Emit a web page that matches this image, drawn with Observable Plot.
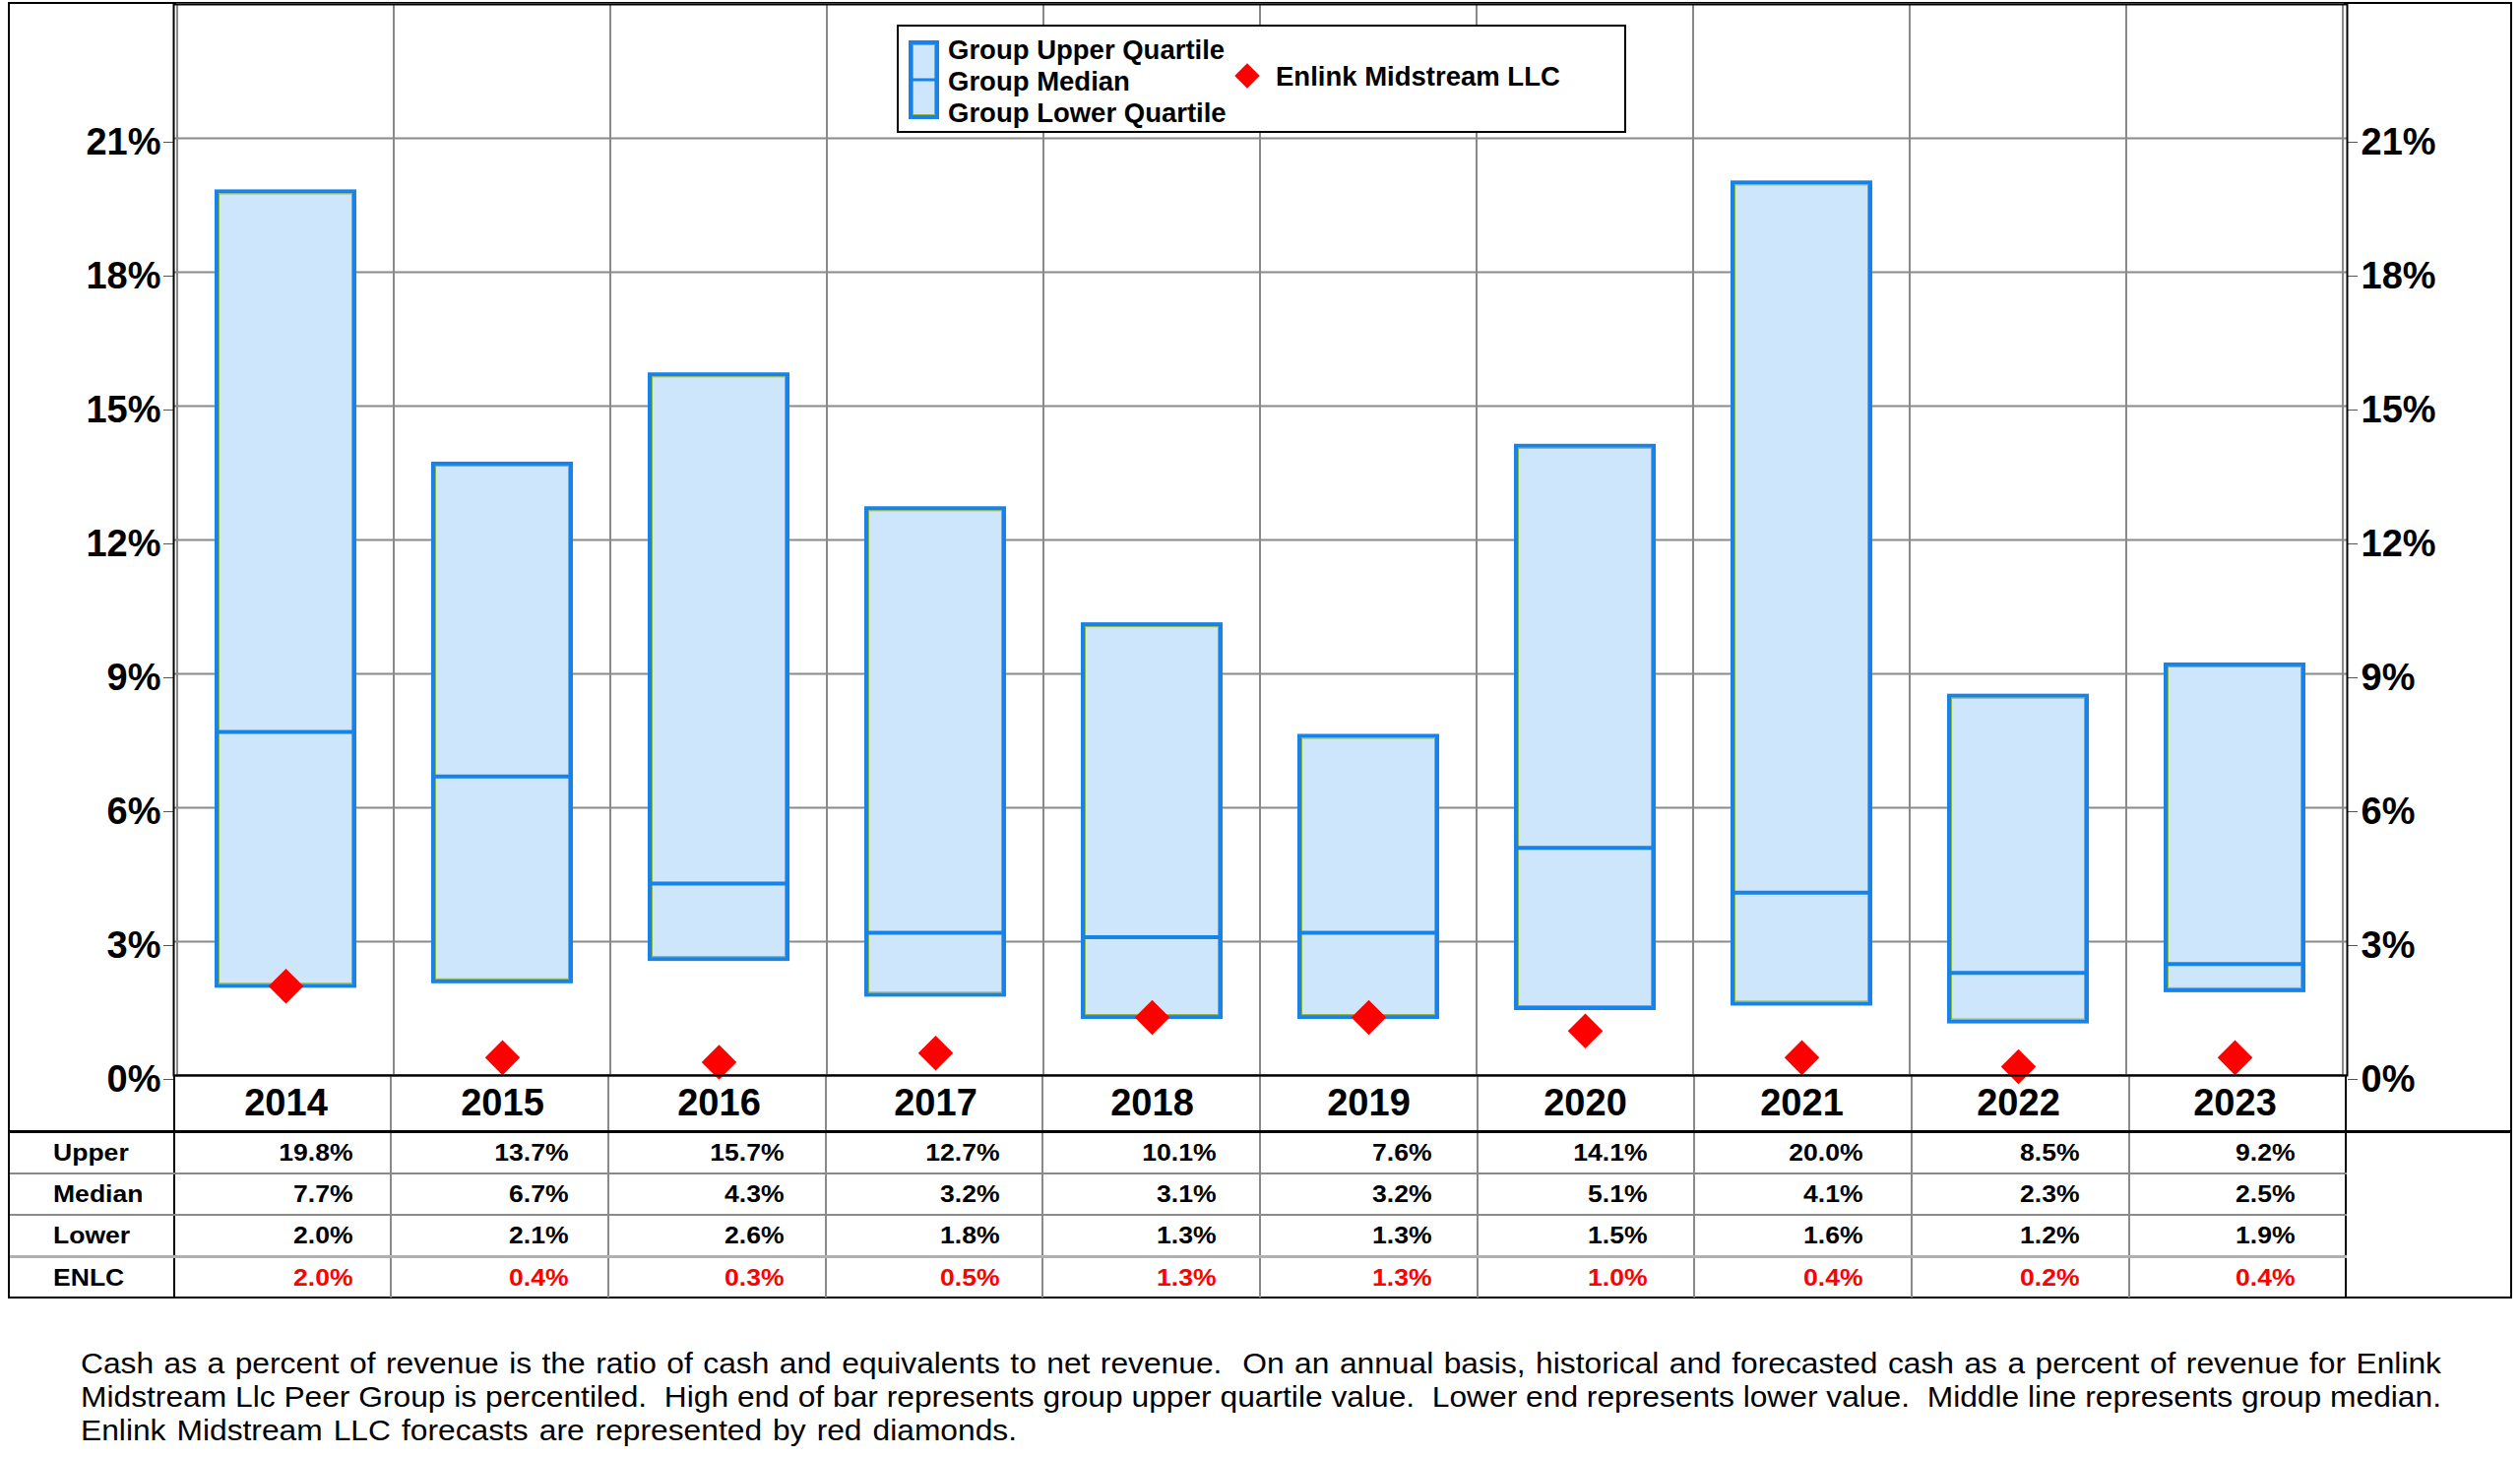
<!DOCTYPE html>
<html>
<head>
<meta charset="utf-8">
<script src="https://cdn.jsdelivr.net/npm/d3@7"></script>
<script src="https://cdn.jsdelivr.net/npm/@observablehq/plot@0.6"></script>
<style>
  html, body { margin: 0; padding: 0; background: #fff; }
  body { width: 2560px; height: 1480px; position: relative; overflow: hidden;
         font-family: "Liberation Sans", Arial, Helvetica, sans-serif; color: #000; }
  #frame { position: absolute; left: 8px; top: 2px; width: 2544px; height: 1317px;
           box-sizing: border-box; border: 2px solid #000; overflow: hidden; }
  #chart svg { display: block; overflow: visible; }
  #tbl { border-collapse: collapse; table-layout: fixed; width: 2540px; }
  #tbl td { padding: 0; font-weight: bold; font-size: 23.5px; white-space: nowrap; overflow: visible; }
  #tbl td span { display: inline-block; transform: scaleX(1.13); }
  #tbl tr.yr td { height: 56px; border-bottom: 3px solid #000; }
  #tbl tr.dr td { height: 40px; }
  #tbl td.lab { text-align: left; padding-left: 44px; border-right: 2px solid #000; }
  #tbl td.lab span { transform-origin: left center; }
  #tbl td.val { text-align: right; border-right: 2px solid #8a8a8a; }
  #tbl td.val span { transform-origin: right center; }
  #tbl td.val.last { border-right: 2px solid #000; }
  #tbl tr.dr.sep td.lab, #tbl tr.dr.sep td.val { border-bottom: 2px solid #8a8a8a; }
  #tbl tr.dr.enlc td.lab, #tbl tr.dr.enlc td.val { border-top: 3px solid #b0b0b0; }
  #tbl tr.dr.enlc td.val { color: #ff0000; }
  #tbl td.end { border: none; }
  #legend { position: absolute; left: 911px; top: 25px; width: 741px; height: 110px;
            box-sizing: border-box; border: 2px solid #000; background: #fff; }
  #legend .txt { position: absolute; left: 50px; top: 8px; font-size: 27.5px; font-weight: bold; line-height: 32px; white-space: nowrap; }
  #legend .dia { position: absolute; left: 345px; top: 41px; width: 18px; height: 18px; background: #ff0000; transform: rotate(45deg); }
  #legend .etxt { position: absolute; left: 383px; top: 35px; font-size: 27.5px; font-weight: bold; line-height: 32px; white-space: nowrap; }
  #caption { position: absolute; left: 82px; top: 1368px; font-size: 29px; line-height: 34px; transform-origin: left top; }
  #caption div { white-space: nowrap; }
  #caption .j { text-align: justify; text-align-last: justify; }
</style>
</head>
<body>
<div id="frame">
  <div id="chart"></div>
  <table id="tbl"></table>
</div>
<div id="legend">
  <svg width="31" height="80" style="position:absolute;left:10px;top:14px">
    <rect x="2" y="2" width="27" height="76" fill="#cde6fc" stroke="#1682ea" stroke-width="4"></rect>
    <rect x="4.5" y="4.5" width="22" height="71" fill="none" stroke="#93b23c" stroke-width="1"></rect>
    <line x1="2" x2="29" y1="40" y2="40" stroke="#1682ea" stroke-width="3"></line>
  </svg>
  <div class="txt">Group Upper Quartile<br>Group Median<br>Group Lower Quartile</div>
  <div class="dia"></div>
  <div class="etxt">Enlink Midstream LLC</div>
</div>
<div id="caption">
  <div class="j" id="c1">Cash as a percent of revenue is the ratio of cash and equivalents to net revenue.&nbsp; On an annual basis, historical and forecasted cash as a percent of revenue for Enlink</div>
  <div class="j" id="c2">Midstream Llc Peer Group is percentiled.&nbsp; High end of bar represents group upper quartile value.&nbsp; Lower end represents lower value.&nbsp; Middle line represents group median.</div>
  <div id="c3">Enlink Midstream LLC forecasts are represented by red diamonds.</div>
</div>
<script>
// ---- data ----
const years  = ["2014","2015","2016","2017","2018","2019","2020","2021","2022","2023"];
const upper  = [19.8, 13.7, 15.7, 12.7, 10.1, 7.6, 14.1, 20.0, 8.5, 9.2];
const median = [7.7, 6.7, 4.3, 3.2, 3.1, 3.2, 5.1, 4.1, 2.3, 2.5];
const lower  = [2.0, 2.1, 2.6, 1.8, 1.3, 1.3, 1.5, 1.6, 1.2, 1.9];
const enlc   = [2.0, 0.4, 0.3, 0.5, 1.3, 1.3, 1.0, 0.4, 0.2, 0.4];
const yTicks = [0, 3, 6, 9, 12, 15, 18, 21];
const yMax = 24;
const rowLabels = ["Upper", "Median", "Lower", "ENLC"];
const rowSeries = [upper, median, lower, enlc];

const data = years.map((year, i) => ({year, upper: upper[i], median: median[i], lower: lower[i], enlc: enlc[i]}));

const FONT = "Liberation Sans, Arial, Helvetica, sans-serif";
const BLUE = "#1682ea", FILL = "#cde6fc", GREEN = "#93b23c", GRID = "#8a8a8a";

const chart = Plot.plot({
  width: 2540, height: 1088,
  marginLeft: 166, marginRight: 166, marginTop: 0, marginBottom: 0,
  style: {overflow: "visible", background: "transparent", fontFamily: FONT},
  x: {type: "band", domain: years, padding: 0, label: null},
  y: {domain: [0, yMax], label: null},
  marks: [
    Plot.ruleY(yTicks.filter(d => d > 0), {stroke: GRID, strokeWidth: 2}),
    Plot.barY(years, {x: d => d, y1: 0, y2: yMax, fill: "none", stroke: GRID, strokeWidth: 2}),
    Plot.barY(data, {x: "year", y1: "lower", y2: "upper", fill: FILL, stroke: BLUE, strokeWidth: 4, insetLeft: 40, insetRight: 40}),
    Plot.barY(data, {x: "year", y1: "lower", y2: "upper", fill: "none", stroke: GREEN, strokeWidth: 1,
                     insetLeft: 42.5, insetRight: 42.5, insetTop: 2.5, insetBottom: 2.5}),
    Plot.tickY(data, {x: "year", y: "median", stroke: BLUE, strokeWidth: 4, insetLeft: 40, insetRight: 40}),
    Plot.ruleY([0], {stroke: "#333", strokeWidth: 2}),
    Plot.dot(data, {x: "year", y: "enlc", symbol: "diamond2", r: 16, fill: "#ff0000", stroke: "none"}),
    Plot.axisY({anchor: "left", ticks: yTicks, tickFormat: d => d + "%", tickSize: 10, tickPadding: 3,
                fontSize: 38, fontWeight: "bold", color: "#000", stroke: "#555", dy: 4, label: null}),
    Plot.axisY({anchor: "right", ticks: yTicks, tickFormat: d => d + "%", tickSize: 10, tickPadding: 4,
                fontSize: 38, fontWeight: "bold", color: "#000", stroke: "#555", dy: 4, label: null}),
    Plot.axisX({anchor: "bottom", tickSize: 0, tickPadding: 14, fontSize: 38, fontWeight: "bold", color: "#000", label: null}),
    Plot.frame({stroke: "#000", strokeWidth: 2})
  ]
});
document.getElementById("chart").appendChild(chart);
document.getElementById("frame").style.overflow = "visible";

// ---- table below, columns from the Plot x scale ----
const xs = chart.scale("x");
const step = xs.step || xs.bandwidth;
const tbl = document.getElementById("tbl");
const cg = document.createElement("colgroup");
const widths = [166, ...years.map(() => step), 166];
widths.forEach(w => { const c = document.createElement("col"); c.style.width = w + "px"; cg.appendChild(c); });
tbl.appendChild(cg);

const padR = i => 38 + 13 * i / (years.length - 1);
const yr = document.createElement("tr");
yr.className = "yr";
yr.innerHTML = `<td class="lab"></td>` + years.map((_, i) => `<td class="val${i === years.length - 1 ? " last" : ""}"></td>`).join("") + `<td class="end"></td>`;
tbl.appendChild(yr);

rowLabels.forEach((lab, r) => {
  const tr = document.createElement("tr");
  tr.className = "dr" + (r < 2 ? " sep" : "") + (r === 3 ? " enlc" : "");
  let html = `<td class="lab"><span>${lab}</span></td>`;
  rowSeries[r].forEach((v, i) => {
    html += `<td class="val${i === years.length - 1 ? " last" : ""}" style="padding-right:${padR(i)}px"><span>${v.toFixed(1)}%</span></td>`;
  });
  if (r === 0) html += `<td class="end" rowspan="4"></td>`;
  tr.innerHTML = html;
  tbl.appendChild(tr);
});

// ---- caption: horizontally widened text as in the reference ----
const cap = document.getElementById("caption");
const ctx = document.createElement("canvas").getContext("2d");
ctx.font = "29px 'Liberation Sans', Arial, sans-serif";
const t3 = document.getElementById("c3").textContent;
const w1 = ctx.measureText(document.getElementById("c1").textContent).width;
const w2 = ctx.measureText(document.getElementById("c2").textContent).width;
const w3 = ctx.measureText(t3).width;
const s = Math.min(951 / w3, 2398 / Math.max(w1, w2));
cap.style.width = (2398 / s) + "px";
cap.style.transform = `scaleX(${s})`;
const nSpaces = (t3.match(/ /g) || []).length;
const extra = (951 / s - w3) / nSpaces;
if (extra > 0) document.getElementById("c3").style.wordSpacing = extra + "px";
</script>
</body>
</html>
